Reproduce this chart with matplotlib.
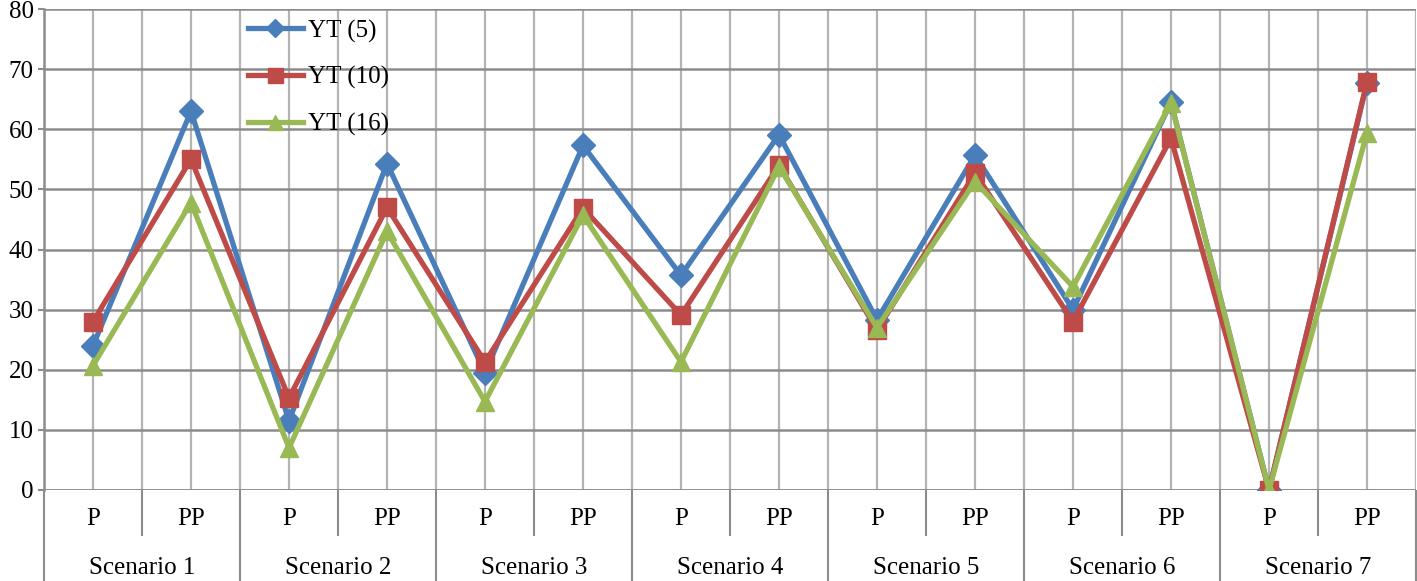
import numpy as np
import matplotlib
matplotlib.use('Agg')
import matplotlib.pyplot as plt

# valores
escenarios = ['Scenario 1', 'Scenario 2', 'Scenario 3', 'Scenario 4',
              'Scenario 5', 'Scenario 6', 'Scenario 7']
categorias = ['P', 'PP'] * 7
yt5 = [24, 63, 11.5, 54.3, 19.5, 57.3, 35.7, 59.1, 28.3, 55.7, 30, 64.5, 0, 67.7]
yt10 = [28, 55, 15.3, 47, 21.3, 46.9, 29.1, 54, 26.6, 52.7, 28, 58.5, 0, 67.9]
yt16 = [20.7, 47.8, 7, 43, 14.7, 45.7, 21.3, 53.8, 27, 51.3, 33.8, 64.4, 0, 59.4]

plt.rcParams['font.family'] = ['Liberation Serif', 'DejaVu Serif']

fig = plt.figure(figsize=(14.17, 5.81), dpi=100)
ax = fig.add_axes([44 / 1417, 91 / 581, 1372 / 1417, 481 / 581])

x = np.arange(len(categorias))

# rejilla
ax.vlines(np.arange(-0.5, len(categorias), 0.5), 0, 80, color='#b4b4b4', lw=1.6, zorder=0)
ax.set_ylim(0, 80)
ax.set_xlim(-0.5, len(categorias) - 0.5)
ax.set_yticks(range(0, 81, 10))
ax.yaxis.grid(True, color='#8c8c8c', lw=1.8, zorder=0)
ax.set_axisbelow(True)

ax.plot(x, yt5, color='#4a7ebb', lw=3.8, marker='D', ms=12, label='YT (5)', zorder=3)
ax.plot(x, yt10, color='#be4b48', lw=3.8, marker='s', ms=13.5, label='YT (10)', zorder=4)
ax.plot(x, yt16, color='#98b954', lw=3.8, marker='^', ms=13.5, label='YT (16)', zorder=5)

for lado in ['top', 'right', 'bottom']:
    ax.spines[lado].set_visible(False)
ax.spines['left'].set_color('#8c8c8c')
ax.spines['left'].set_linewidth(1.8)
ax.axhline(0, color='#8c8c8c', lw=1.8, zorder=1)

ax.tick_params(axis='y', length=4.5, width=1.5, color='#8c8c8c', labelsize=18, pad=3)

# primer nivel: P / PP
ax.set_xticks(x)
ax.set_xticklabels(categorias, fontsize=18)
ax.set_xticks(np.arange(0.5, len(categorias), 2), minor=True)
ax.tick_params(axis='x', which='major', length=0, pad=13)
ax.tick_params(axis='x', which='minor', length=33, width=1.5, color='#8c8c8c')

# segundo nivel: escenarios
sec = ax.secondary_xaxis('bottom')
sec.set_xticks(np.arange(0.5, len(categorias), 2))
sec.set_xticklabels(escenarios, fontsize=18)
sec.set_xticks(np.arange(-0.5, len(categorias) + 0.5, 2), minor=True)
sec.tick_params(axis='x', which='major', length=0, pad=48)
sec.tick_params(axis='x', which='minor', length=70, width=1.5, color='#8c8c8c')
sec.spines['bottom'].set_visible(False)

ax.legend(loc='upper left', bbox_to_anchor=(0.132, 1.025), frameon=False, fontsize=18,
          handlelength=2.2, labelspacing=0.95, handletextpad=0.2, markerscale=0.8)

plt.savefig('out.png', dpi=100)
